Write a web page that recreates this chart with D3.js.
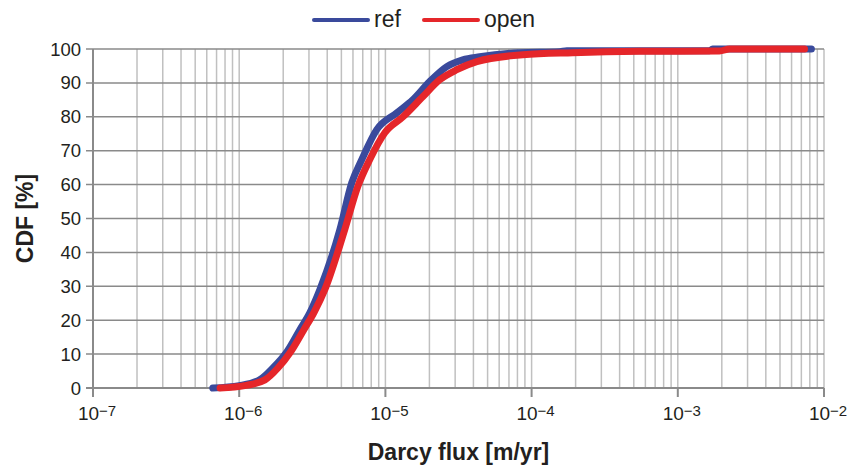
<!DOCTYPE html>
<html>
<head>
<meta charset="utf-8">
<script src="https://cdn.jsdelivr.net/npm/d3@7"></script>
<style>
  body { margin: 0; background: #fff; }
  svg { display: block; font-family: "Liberation Sans", Arial, sans-serif; }
  .ytick { font-size: 18.5px; fill: #231f20; }
  .xtick { font-size: 19px; fill: #231f20; }
  .title { font-size: 23px; font-weight: bold; fill: #231f20; }
  .legtext { font-size: 23px; fill: #231f20; }
</style>
</head>
<body>
<script>
// values
var refFlux = [6.6e-7, 1.0e-6, 1.38e-6, 1.70e-6, 2.12e-6, 2.60e-6, 3.04e-6, 3.56e-6, 4.88e-6, 5.89e-6,
               6.90e-6, 8.73e-6, 1.20e-5, 1.54e-5, 2.01e-5, 2.63e-5, 3.38e-5, 4.42e-5, 8.3e-5, 1.56e-4,
               1.74e-4, 1.65e-3, 1.73e-3, 8.2e-3];
var refCdf  = [0, 0.7, 2.4, 5.9, 10.7, 17.2, 22.2, 29.0, 46.7, 60.6,
               67.4, 76.2, 81.2, 85.0, 90.4, 94.8, 96.8, 97.7, 98.9, 99.2,
               99.5, 99.5, 100, 100];
var openFlux = [7.4e-7, 1.09e-6, 1.50e-6, 1.84e-6, 2.25e-6, 2.77e-6, 3.24e-6, 3.85e-6, 5.27e-6, 6.47e-6,
                7.82e-6, 9.91e-6, 1.32e-5, 1.80e-5, 2.35e-5, 3.08e-5, 4.22e-5, 8.7e-5, 1.91e-4, 5.48e-4,
                1.93e-3, 2.26e-3, 7.36e-3];
var openCdf  = [0, 0.7, 2.4, 5.9, 10.7, 17.2, 22.2, 29.0, 46.7, 59.4,
                67.4, 75.3, 80.0, 85.9, 90.9, 93.9, 96.3, 98.3, 98.9, 99.3,
                99.4, 100, 100];
var seriesNames = ["ref", "open"];
var seriesColors = ["#3a4a9c", "#e5262a"];
var yTicks = [0, 10, 20, 30, 40, 50, 60, 70, 80, 90, 100];
var xDecades = [-7, -6, -5, -4, -3, -2];

var width = 849, height = 468;
var margin = {left: 93, right: 25, top: 49, bottom: 80};

var svg = d3.select("body").append("svg")
    .attr("width", width)
    .attr("height", height);

var x = d3.scaleLog()
    .domain([1e-7, 1e-2])
    .range([margin.left, width - margin.right]);
var y = d3.scaleLinear()
    .domain([0, 100])
    .range([height - margin.bottom, margin.top]);

//minor vertical gridlines (1..9 x each decade)
var minor = [];
xDecades.forEach(function(e){
    for (var k = 1; k <= 9; k++) {
        var v = k * Math.pow(10, e);
        if (v <= 1e-2 && v > 1e-7) minor.push(v);
    }
});
svg.selectAll(".vgrid")
    .data(minor)
    .enter().append("line")
    .attr("class", "vgrid")
    .attr("x1", function(d){ return x(d); })
    .attr("x2", function(d){ return x(d); })
    .attr("y1", y(100))
    .attr("y2", y(0))
    .attr("stroke", "#c0c0c0")
    .attr("stroke-width", 1.5);

//horizontal gridlines with left ticks
svg.selectAll(".hgrid")
    .data(yTicks)
    .enter().append("line")
    .attr("class", "hgrid")
    .attr("x1", margin.left - 7)
    .attr("x2", x(1e-2))
    .attr("y1", function(d){ return y(d); })
    .attr("y2", function(d){ return y(d); })
    .attr("stroke", "#8a8a8a")
    .attr("stroke-width", function(d){ return d === 0 ? 2.2 : 1.5; });

//left axis line
svg.append("line")
    .attr("x1", x(1e-7)).attr("x2", x(1e-7))
    .attr("y1", y(100)).attr("y2", y(0))
    .attr("stroke", "#8a8a8a")
    .attr("stroke-width", 2);

//decade ticks below the axis
svg.selectAll(".xtickmark")
    .data(xDecades)
    .enter().append("line")
    .attr("x1", function(d){ return x(Math.pow(10, d)); })
    .attr("x2", function(d){ return x(Math.pow(10, d)); })
    .attr("y1", y(0))
    .attr("y2", y(0) + 9)
    .attr("stroke", "#8a8a8a")
    .attr("stroke-width", 2);

//y tick labels
svg.selectAll(".ytick")
    .data(yTicks)
    .enter().append("text")
    .attr("class", "ytick")
    .attr("x", margin.left - 12)
    .attr("y", function(d){ return y(d) + 6.5; })
    .attr("text-anchor", "end")
    .text(function(d){ return d; });

//x tick labels 10^n
var xl = svg.selectAll(".xtick")
    .data(xDecades)
    .enter().append("text")
    .attr("class", "xtick")
    .attr("x", function(d){ return x(Math.pow(10, d)) + 4; })
    .attr("y", 420)
    .attr("text-anchor", "middle");
xl.append("tspan").text("10");
xl.append("tspan")
    .attr("dy", -4)
    .style("font-size", "15px")
    .text(function(d){ return "\u2212" + Math.abs(d); });

//curves
var line = d3.line()
    .curve(d3.curveMonotoneX)
    .x(function(d){ return x(d[0]); })
    .y(function(d){ return y(d[1]); });

var series = [
    d3.zip(refFlux, refCdf),
    d3.zip(openFlux, openCdf)
];
svg.selectAll(".curve")
    .data(series)
    .enter().append("path")
    .attr("class", "curve")
    .attr("d", line)
    .attr("fill", "none")
    .attr("stroke", function(d, i){ return seriesColors[i]; })
    .attr("stroke-width", 7)
    .attr("stroke-linejoin", "round")
    .attr("stroke-linecap", "round");

//axis titles
svg.append("text")
    .attr("class", "title")
    .attr("x", (x(1e-7) + x(1e-2)) / 2)
    .attr("y", 460)
    .attr("text-anchor", "middle")
    .text("Darcy flux [m/yr]");
svg.append("text")
    .attr("class", "title")
    .attr("transform", "translate(33," + (y(50)) + ") rotate(-90)")
    .attr("text-anchor", "middle")
    .text("CDF [%]");

//legend
var legX = [314, 424];
var leg = svg.selectAll(".leg")
    .data(seriesNames)
    .enter().append("g")
    .attr("transform", function(d, i){ return "translate(" + legX[i] + ",20)"; });
leg.append("line")
    .attr("x1", 0).attr("x2", 54)
    .attr("stroke", function(d, i){ return seriesColors[i]; })
    .attr("stroke-width", 4)
    .attr("stroke-linecap", "round");
leg.append("text")
    .attr("class", "legtext")
    .attr("x", 60)
    .attr("y", 7)
    .text(function(d){ return d; });
</script>
</body>
</html>
